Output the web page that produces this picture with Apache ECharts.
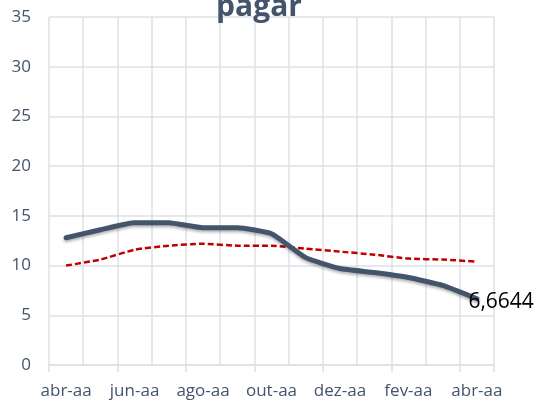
<!DOCTYPE html>
<html lang="pt">
<head>
  <meta charset="UTF-8">
  <title>pagar</title>
  <style>
    html, body, #main {
      margin: 0;
      padding: 0;
    }
    #main {
      width: 537px;
      height: 401px;
    }
  </style>
</head>
<body>
  <div id="main"></div>
  <script src="https://cdn.jsdelivr.net/npm/echarts@6/dist/echarts.min.js"></script>
  <script>
    const months = ['abr-aa', 'mai-aa', 'jun-aa', 'jul-aa', 'ago-aa', 'set-aa', 'out-aa',
      'nov-aa', 'dez-aa', 'jan-aa', 'fev-aa', 'mar-aa', 'abr-aa'];
    const prazo = [12.8, 13.6, 14.3, 14.3, 13.8, 13.8, 13.2, 10.8, 9.7, 9.3, 8.8, 8.0, 6.6644];
    const media = [10.0, 10.6, 11.6, 12.0, 12.2, 12.0, 12.0, 11.7, 11.4, 11.1, 10.7, 10.6, 10.4];

    const font = '"Open Sans", "Noto Sans", sans-serif';
    const gridColor = '#DCE0E7';

    const myChart = echarts.init(document.getElementById('main'));
    const option = {
      animation: false,
      title: {
        text: 'pagar',
        left: 254,
        textAlign: 'center',
        top: -13,
        textStyle: {
          fontFamily: font,
          fontWeight: 'bold',
          fontSize: 30,
          color: '#44546A'
        }
      },
      grid: {
        left: 49,
        right: 43,
        top: 17,
        bottom: 36
      },
      xAxis: {
        type: 'category',
        data: months,
        boundaryGap: true,
        axisLine: { lineStyle: { color: gridColor, width: 1.5 } },
        axisTick: { show: true, length: 7, lineStyle: { color: gridColor, width: 1.5 } },
        axisLabel: {
          interval: 1,
          margin: 18,
          fontFamily: font,
          fontSize: 17,
          color: '#44546A'
        },
        splitLine: { show: true, interval: 0, lineStyle: { color: gridColor, width: 1.5 } }
      },
      yAxis: {
        type: 'value',
        min: 0,
        max: 35,
        interval: 5,
        axisLine: { show: false },
        axisTick: { show: false },
        axisLabel: {
          margin: 18,
          fontFamily: font,
          fontSize: 17,
          color: '#44546A'
        },
        splitLine: { lineStyle: { color: gridColor, width: 1.5 } }
      },
      series: [
        {
          type: 'line',
          data: media,
          smooth: 0.15,
          symbol: 'none',
          lineStyle: { color: '#C00000', width: 2.5, type: [6, 3] },
          z: 2
        },
        {
          type: 'line',
          data: prazo.map((v, i) => i === prazo.length - 1 ? {
            value: v,
            label: {
              show: true,
              position: 'right',
              distance: 0,
              offset: [-9, 3],
              formatter: (p) => String(p.value).replace('.', ','),
              fontFamily: font,
              fontSize: 21,
              color: '#000'
            }
          } : v),
          smooth: 0.15,
          symbol: 'circle',
          symbolSize: 1,
          showSymbol: true,
          itemStyle: { color: 'rgba(0,0,0,0)' },
          lineStyle: {
            color: '#44546A',
            width: 5,
            cap: 'round',
            shadowBlur: 3,
            shadowColor: 'rgba(0,0,0,0.3)',
            shadowOffsetY: 2
          },
          z: 3
        }
      ]
    };

    myChart.setOption(option);
  </script>
</body>
</html>
